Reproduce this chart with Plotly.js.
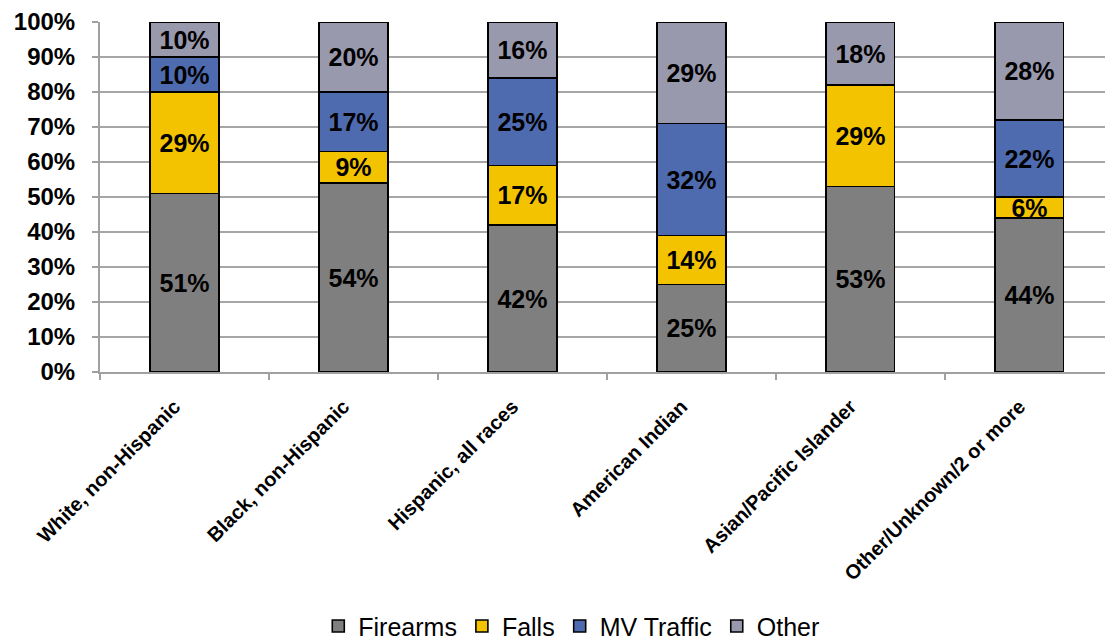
<!DOCTYPE html>
<html>
<head>
<meta charset="utf-8">
<script src="https://cdn.plot.ly/plotly-3.0.1.min.js"></script>
<style>
  html, body { margin: 0; padding: 0; background: #fff; }
  #chart { width: 1105px; height: 641px; }
</style>
</head>
<body>
<div id="chart"></div>
<script>
// categories and shares (%)
var categories = ['White, non-Hispanic', 'Black, non-Hispanic', 'Hispanic, all races',
  'American Indian', 'Asian/Pacific Islander', 'Other/Unknown/2 or more'];
var firearms = [51, 54, 42, 25, 53, 44];
var falls    = [29,  9, 17, 14, 29,  6];
var traffic  = [10, 17, 25, 32,  0, 22];
var other    = [10, 20, 16, 29, 18, 28];

var seriesNames  = ['Firearms', 'Falls', 'MV Traffic', 'Other'];
var seriesValues = [firearms, falls, traffic, other];
var seriesColors = ['#7f7f7f', '#f4c300', '#4f6bb0', '#9999ae'];

// labels: hide zero segments
function labels(vals) {
  return vals.map(function (v) { return v > 0 ? v + '%' : ''; });
}

var traces = [];
for (var i = 0; i < seriesNames.length; i++) {
  traces.push({
    type: 'bar',
    name: seriesNames[i],
    x: categories,
    y: seriesValues[i],
    text: labels(seriesValues[i]),
    textposition: 'inside',
    insidetextanchor: 'middle',
    constraintext: 'none',
    textangle: 0,
    textfont: { family: 'Liberation Sans, Arial, sans-serif', size: 25, color: '#000', weight: 'bold' },
    marker: { color: seriesColors[i], line: { color: '#000', width: 1.6 } },
    hoverinfo: 'name+y'
  });
}

var layout = {
  width: 1105,
  height: 641,
  barmode: 'stack',
  bargap: 0.595,
  margin: { l: 100, r: 0, t: 22, b: 269 },
  paper_bgcolor: '#fff',
  plot_bgcolor: '#fff',
  font: { family: 'Liberation Sans, Arial, sans-serif', color: '#000' },
  showlegend: true,
  legend: {
    orientation: 'h',
    xref: 'container', yref: 'container',
    x: 0.517, xanchor: 'center',
    y: 0.023, yanchor: 'middle',
    font: { size: 25, color: '#000' },
    itemwidth: 30,
    traceorder: 'normal'
  },
  xaxis: {
    type: 'category',
    range: [-0.5, 5.447],
    automargin: false,
    tickangle: -45,
    tickson: 'boundaries',
    ticks: 'outside',
    ticklen: 6,
    tickcolor: '#a0a0a0',
    tickwidth: 2,
    ticklabelstandoff: 13,
    ticklabelshift: -10,
    showline: true,
    linecolor: '#a0a0a0',
    linewidth: 2,
    showgrid: false,
    tickfont: { size: 20, color: '#000', weight: 'bold' },
    fixedrange: true
  },
  yaxis: {
    range: [0, 100],
    dtick: 10,
    automargin: false,
    ticksuffix: '%',
    ticks: 'outside',
    ticklen: 6,
    tickcolor: '#a0a0a0',
    tickwidth: 2,
    ticklabelstandoff: 12,
    showline: true,
    linecolor: '#a0a0a0',
    linewidth: 2,
    showgrid: true,
    gridcolor: '#a6a6a6',
    gridwidth: 2,
    zeroline: false,
    tickfont: { size: 24, color: '#000', weight: 'bold' },
    fixedrange: true
  }
};

Plotly.newPlot('chart', traces, layout, { displayModeBar: false, staticPlot: true });
</script>
</body>
</html>
